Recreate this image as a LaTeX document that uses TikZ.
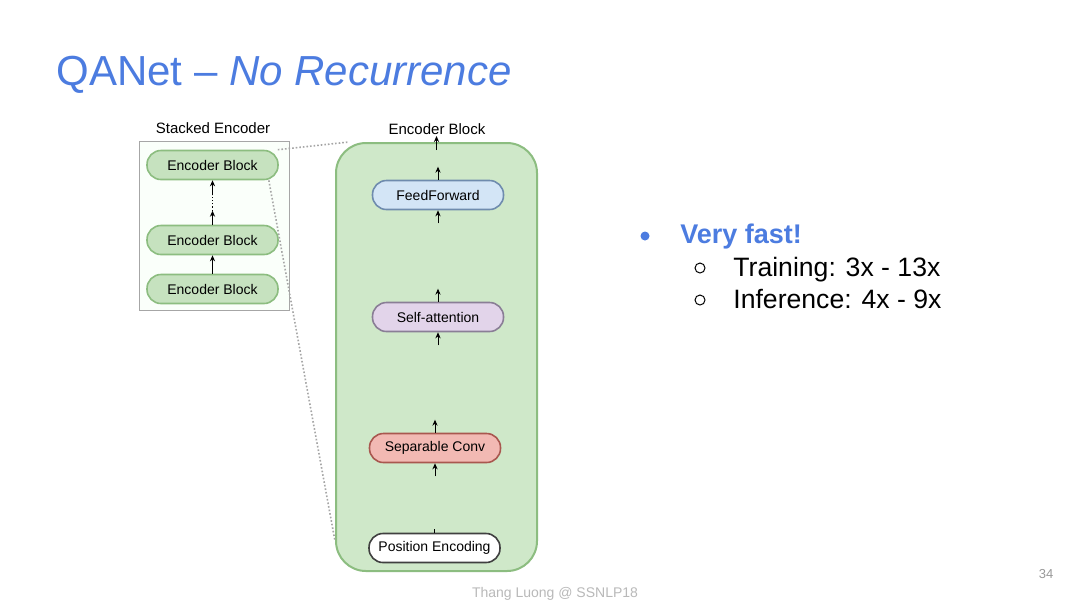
\documentclass[tikz,border=0pt]{standalone}
\usepackage{fontspec}
\setmainfont{Liberation Sans}
\usetikzlibrary{arrows.meta}
\definecolor{titleblue}{HTML}{4C7CE0}
\definecolor{blkgreen}{HTML}{CFE8C9}
\definecolor{blkedge}{HTML}{8CBD80}
\definecolor{pillgreen}{HTML}{C6E2BF}
\definecolor{ffblue}{HTML}{D3E5F6}
\definecolor{ffedge}{HTML}{6F8CAE}
\definecolor{salilac}{HTML}{E2D4EA}
\definecolor{saedge}{HTML}{8A7E96}
\definecolor{scred}{HTML}{F2B9B3}
\definecolor{scedge}{HTML}{A9574F}
\tikzset{
  pill/.style={draw, rounded corners=7pt, line width=0.8pt, minimum width=65.5pt,
    minimum height=14.5pt, inner sep=1pt, font=\fontsize{7}{8}\selectfont},
  stub/.style={->, line width=0.5pt},
  zoomline/.style={densely dotted, line width=0.8pt, gray!70},
}
\begin{document}
\begin{tikzpicture}[x=0.5pt, y=-0.5pt, >={Stealth[length=3pt,width=2.6pt]}]
    \useasboundingbox[fill=white] (0,0) rectangle (1080,607);

    \node[anchor=base west, inner sep=0, text=titleblue, font=\fontsize{21}{24}\selectfont] (title) at (56,85) {QANet – \textit{No Recurrence}};

    % stacked encoder
    \node[draw=gray!70, fill=green!2, minimum width=75pt, minimum height=84.5pt, inner sep=0] (stack) at (214,225.5) {};
    \node[font=\fontsize{7.5}{9}\selectfont] (stacklbl) at (213,128) {Stacked Encoder};
    \node[pill, draw=blkedge, fill=pillgreen] (eb1) at (212.5,165) {Encoder Block};
    \node[pill, draw=blkedge, fill=pillgreen] (eb2) at (212.5,240) {Encoder Block};
    \node[pill, draw=blkedge, fill=pillgreen] (eb3) at (212.5,289) {Encoder Block};
    \draw[stub] (eb3.north) -- (eb2.south);
    \draw[stub] (eb2.north) -- ++(0,-14) coordinate (d1);
    \draw[densely dotted, line width=0.6pt] (d1) -- ++(0,-16) coordinate (d2);
    \draw[stub] (d2) -- (eb1.south);

    % encoder block
    \node[draw=blkedge, fill=blkgreen, line width=1pt, rounded corners=15pt, minimum width=100.5pt, minimum height=214pt] (enc) at (436.5,357) {};
    \node[font=\fontsize{7.5}{9}\selectfont] (enclbl) at (437,129) {Encoder Block};
    \node[pill, draw=ffedge, fill=ffblue] (ff) at (438,195) {FeedForward};
    \node[pill, draw=saedge, fill=salilac] (sa) at (438,317) {Self-attention};
    \node[pill, draw=scedge, fill=scred] (sc) at (435,448) {Separable Conv};
    \node[pill, draw=black!75, fill=white] (pe) at (434.5,548) {Position Encoding};

    \draw[stub] ([yshift=-4pt]enc.north) -- ++(0,-14);
    \draw[stub] (ff.north) -- ++(0,-13);
    \draw[stub] ([yshift=-6.5pt]ff.south) -- (ff.south);
    \draw[stub] (sa.north) -- ++(0,-13);
    \draw[stub] ([yshift=-6.5pt]sa.south) -- (sa.south);
    \draw[stub] (sc.north) -- ++(0,-13);
    \draw[stub] ([yshift=-6.5pt]sc.south) -- (sc.south);
    \draw[line width=0.5pt] (pe.north) -- ++(0,-4);

    % zoom lines
    \draw[zoomline] ([xshift=-0.5pt]eb1.north east) -- ([xshift=7pt]enc.north west);
    \draw[zoomline] ([xshift=-5pt]eb1.south east) -- ([yshift=15.5pt]enc.south west);

    % bullets
    \node[circle, fill=titleblue, inner sep=0, minimum size=4.5pt] (dot1) at (645,236) {};
    \node[anchor=base west, inner sep=0, text=titleblue, font=\fontsize{13.5}{15}\selectfont\bfseries] (fast) at (680,243) {Very fast!};
    \node[circle, draw=black, line width=0.5pt, inner sep=0, minimum size=5pt] (dot2) at (700,268) {};
    \node[anchor=base west, inner sep=0, font=\fontsize{13.3}{15}\selectfont] (train) at (733,276) {Training: 3x - 13x};
    \node[circle, draw=black, line width=0.5pt, inner sep=0, minimum size=5pt] (dot3) at (700,300) {};
    \node[anchor=base west, inner sep=0, font=\fontsize{13.3}{15}\selectfont] (infer) at (733,308) {Inference: 4x - 9x};

    \node[text=gray!55, font=\fontsize{7}{8}\selectfont] (foot) at (555,594) {Thang Luong @ SSNLP18};
    \node[text=gray!80, font=\fontsize{6.5}{8}\selectfont] (page) at (1046,574) {34};
\end{tikzpicture}
\end{document}
